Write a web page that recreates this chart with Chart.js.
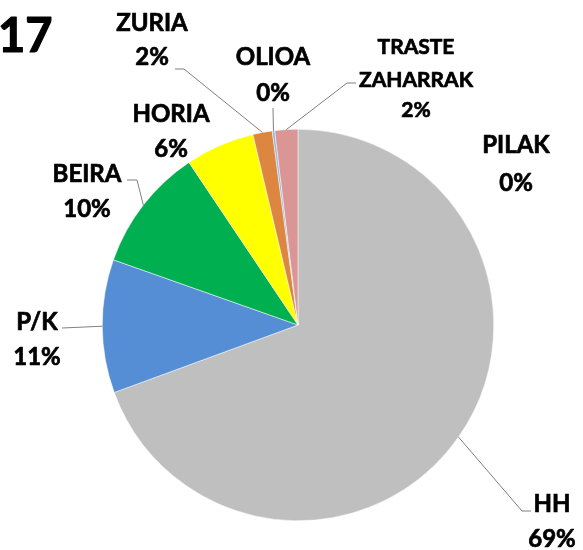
<!DOCTYPE html>
<html>
<head>
<meta charset="utf-8">
<script src="https://cdn.jsdelivr.net/npm/chart.js@4"></script>
<style>
  html, body { margin: 0; padding: 0; background: #ffffff; }
  #wrap { width: 583px; height: 550px; position: relative; }
</style>
</head>
<body>
<div id="wrap"><canvas id="c" width="583" height="550"></canvas></div>
<script>
// ---- data ----
const categories = ['HH', 'P/K', 'BEIRA', 'HORIA', 'ZURIA', 'OLIOA', 'TRASTE ZAHARRAK', 'PILAK'];
const values = [69.4, 11.0, 10.2, 5.7, 1.6, 0.2, 1.9, 0];
const titleText = '17';

// ---- styles ----
const sliceColors = ['#BFBFBF', '#558ED5', '#00B050', '#FFFF00', '#DD8640', '#8EB4E3', '#D99694', '#A6A6A6'];

// label layout (text anchor positions, leader-line stubs); leader ends on the slice arc
const labelLayout = [
  { x: 552, base: [512, 547], size: 24, stub: [[531, 511], [522, 511]] },   // HH
  { x: 37,  base: [330, 365], size: 24, stub: [[62, 328]] },                // P/K
  { x: 87,  base: [182, 217], size: 24, stub: [[127, 180], [137, 180]] },   // BEIRA
  { x: 171, base: [122, 157], size: 24, stub: null },                       // HORIA
  { x: 152, base: [31, 65],   size: 24, stub: [[175, 69], [184, 69]] },     // ZURIA
  { x: 273, base: [65, 101],  size: 24, stub: [[273, 108]] },               // OLIOA
  { x: 416, base: [54, 87, 117], size: 21, stub: [[356, 83], [347, 83]] },  // TRASTE ZAHARRAK
  { x: 516, base: [153, 191], size: 24, stub: null }                        // PILAK
];

const FONT = 'Lato, "Open Sans", "Liberation Sans", sans-serif';

function heavyText(ctx, t, x, y) {
  ctx.fillText(t, x, y);
  ctx.strokeText(t, x, y);
}

const labelPlugin = {
  id: 'excelLabels',
  afterDraw(chart) {
    const ctx = chart.ctx;
    const meta = chart.getDatasetMeta(0);
    const data = chart.data.datasets[0].data;
    const total = data.reduce((a, b) => a + b, 0);
    ctx.save();
    // clipped title
    ctx.fillStyle = '#000';
    ctx.strokeStyle = '#000';
    ctx.lineWidth = 1.2;
    ctx.lineJoin = 'round';
    ctx.font = 'bold 47px ' + FONT;
    ctx.textAlign = 'left';
    ctx.textBaseline = 'alphabetic';
    heavyText(ctx, titleText, -2, 52);

    meta.data.forEach((arc, i) => {
      const L = labelLayout[i];
      const p = arc.getProps(['x', 'y', 'startAngle', 'endAngle', 'outerRadius'], true);
      const mid = (p.startAngle + p.endAngle) / 2;
      const ex = p.x + Math.cos(mid) * p.outerRadius;
      const ey = p.y + Math.sin(mid) * p.outerRadius;
      if (L.stub) {
        ctx.strokeStyle = '#7F7F7F';
        ctx.lineWidth = 1;
        ctx.beginPath();
        ctx.moveTo(L.stub[0][0], L.stub[0][1]);
        for (let k = 1; k < L.stub.length; k++) ctx.lineTo(L.stub[k][0], L.stub[k][1]);
        ctx.lineTo(ex, ey);
        ctx.stroke();
      }
      const pct = Math.round(data[i] / total * 100) + '%';
      const lines = categories[i].split(' ').concat([pct]);
      ctx.fillStyle = '#000';
      ctx.strokeStyle = '#000';
      ctx.lineWidth = 0.7;
      ctx.font = 'bold ' + L.size + 'px ' + FONT;
      ctx.textAlign = 'center';
      ctx.textBaseline = 'alphabetic';
      lines.forEach((t, k) => heavyText(ctx, t, L.x, L.base[k]));
    });
    ctx.restore();
  }
};

new Chart(document.getElementById('c'), {
  type: 'pie',
  data: {
    labels: categories,
    datasets: [{
      data: values,
      backgroundColor: sliceColors,
      borderWidth: 0.5,
      borderColor: '#ffffff'
    }]
  },
  options: {
    responsive: false,
    animation: false,
    layout: { padding: { left: 102, right: 89, top: 129, bottom: 29 } },
    plugins: {
      legend: { display: false },
      tooltip: { enabled: false },
      title: { display: false }
    }
  },
  plugins: [labelPlugin]
});
</script>
</body>
</html>
